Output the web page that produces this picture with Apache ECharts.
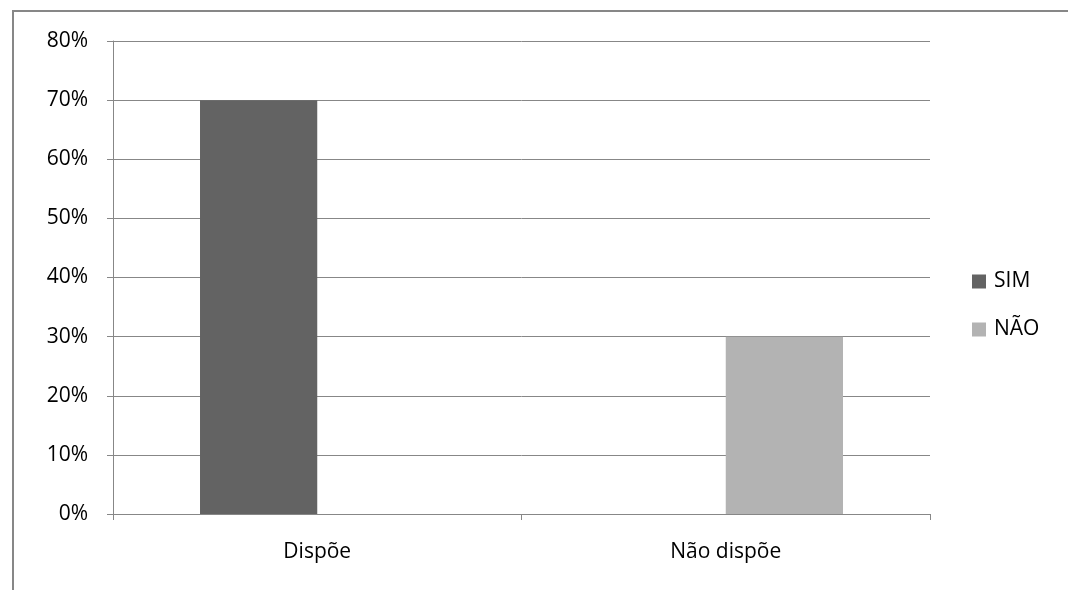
<!DOCTYPE html>
<html>
<head>
<meta charset="utf-8">
<script src="https://cdn.jsdelivr.net/npm/echarts@6/dist/echarts.min.js"></script>
<style>
  html, body { margin: 0; padding: 0; background: #fff; }
  #chart { width: 1068px; height: 590px; }
</style>
</head>
<body>
<div id="chart"></div>
<script>
// Categories and series values (fractions)
const categories = ['Dispõe', 'Não dispõe'];
const seriesNames = ['SIM', 'NÃO'];
const simValues = [0.70, null];
const naoValues = [null, 0.30];
const yTicks = [0, 0.1, 0.2, 0.3, 0.4, 0.5, 0.6, 0.7, 0.8];

const FONT = 'Open Sans';
const FS = 21;
const chart = echarts.init(document.getElementById('chart'), null, { renderer: 'canvas' });

chart.setOption({
  animation: false,
  backgroundColor: '#ffffff',
  textStyle: { fontFamily: FONT, color: '#000' },
  graphic: [{
    type: 'rect',
    shape: { x: 13, y: 11, width: 1100, height: 620 },
    style: { fill: 'none', stroke: '#878787', lineWidth: 2 },
    silent: true
  }],
  grid: { left: 113, right: 138, top: 41, bottom: 76 },
  legend: {
    orient: 'vertical',
    left: 967,
    top: 266,
    itemWidth: 14,
    itemHeight: 14,
    itemGap: 27,
    icon: 'rect',
    textStyle: { fontFamily: FONT, fontSize: FS, color: '#000', padding: [0, 0, 0, 3] },
    data: seriesNames
  },
  xAxis: {
    type: 'category',
    data: categories,
    axisLine: { lineStyle: { color: '#878787', width: 1 } },
    axisTick: { show: true, length: 6, lineStyle: { color: '#878787' } },
    axisLabel: { fontFamily: FONT, fontSize: FS, color: '#000', margin: 28 },
    splitLine: { show: false }
  },
  yAxis: {
    type: 'value',
    min: 0,
    max: 0.8,
    interval: 0.1,
    axisLine: { show: true, lineStyle: { color: '#878787', width: 1 } },
    axisTick: { show: true, length: 6, lineStyle: { color: '#878787' } },
    axisLabel: {
      fontFamily: FONT, fontSize: FS, color: '#000', margin: 25,
      formatter: v => {
        const t = yTicks.find(x => Math.abs(x - v) < 1e-9);
        return Math.round((t !== undefined ? t : v) * 100) + '%';
      }
    },
    splitLine: { show: true, lineStyle: { color: '#878787', width: 1 } }
  },
  series: [
    {
      name: seriesNames[0],
      type: 'bar',
      data: simValues,
      itemStyle: { color: '#636363' },
      barGap: '0%',
      barCategoryGap: '42.6%'
    },
    {
      name: seriesNames[1],
      type: 'bar',
      data: naoValues,
      itemStyle: { color: '#b3b3b3' },
      barGap: '0%',
      barCategoryGap: '42.6%'
    }
  ]
});
</script>
</body>
</html>
